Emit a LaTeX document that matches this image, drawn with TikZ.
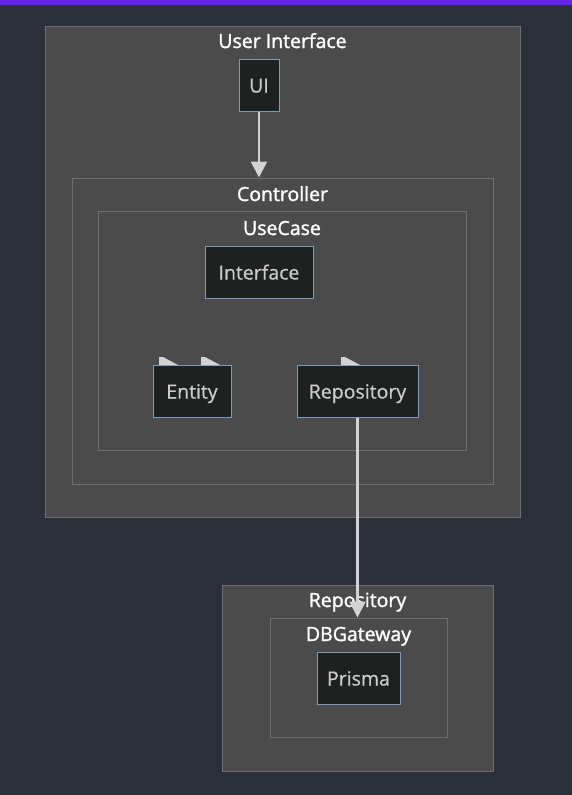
\documentclass[tikz,border=0pt]{standalone}
\usepackage{fontspec}
\setmainfont{Open Sans}
\newfontfamily\titlefont[FakeBold=1.6]{Open Sans}
\newfontfamily\boxfont[FakeBold=0.6]{Open Sans}
\usetikzlibrary{arrows.meta}
\definecolor{pagebg}{HTML}{2B2F3A}
\definecolor{topbar}{HTML}{6528D8}
\definecolor{clusterfill}{HTML}{4A4B4A}
\definecolor{clusterline}{HTML}{6E6E6E}
\definecolor{boxfill}{HTML}{1F2020}
\definecolor{boxline}{HTML}{7F99BB}
\definecolor{boxtext}{HTML}{CCCCCC}
\definecolor{flowline}{HTML}{D3D3D3}
\tikzset{
  cluster/.style={draw=clusterline,fill=clusterfill,line width=1pt,inner sep=0pt},
  ctitle/.style={text=white,font=\titlefont\fontsize{19.5}{22}\selectfont,inner sep=0pt,
    text height=12pt,text depth=0pt},
  box/.style={draw=boxline,fill=boxfill,text=boxtext,line width=1pt,inner sep=0pt,
    minimum height=52pt,text height=15pt,text depth=0pt,
    font=\boxfont\fontsize{19.5}{22}\selectfont},
  flow/.style={draw=flowline,line width=2.2pt,-{Triangle[length=16pt,width=16pt]}},
}
\begin{document}
\begin{tikzpicture}[x=1pt,y=-1pt]
\fill[pagebg] (0,0) rectangle (572,795);
\useasboundingbox (0,0) rectangle (572,795);
\fill[topbar] (0,0) rectangle (572,5);
% clusters
\node[cluster,minimum width=475pt,minimum height=491pt] (userif) at (282.5,271.5) {};
\node[ctitle] at (282.5,42) {User Interface};
\node[cluster,minimum width=421pt,minimum height=306pt] (controller) at (282.5,331) {};
\node[ctitle] at (282.5,195) {Controller};
\node[cluster,minimum width=368pt,minimum height=239pt] (usecase) at (282,330.5) {};
\node[ctitle] at (282,229) {UseCase};
\node[cluster,minimum width=271pt,minimum height=186pt] (repogroup) at (357.5,678) {};
\node[ctitle] at (357.5,601) {Repository};
\node[cluster,minimum width=177pt,minimum height=119pt] (dbgw) at (358.5,677.5) {};
\node[ctitle] at (358.5,635) {DBGateway};
% nodes
\node[box,minimum width=40pt] (ui) at (259,85) {UI};
\node[box,minimum width=108pt] (iface) at (259,272) {Interface};
\node[box,minimum width=78pt] (entity) at (192,391) {Entity};
\node[box,minimum width=121pt] (repo) at (357.5,391) {Repository};
\node[box,minimum width=83pt] (prisma) at (358.5,678) {Prisma};
% stray tips above the boxes
\foreach \tx in {159,201,341}
  \fill[flowline] (\tx,357) -- (\tx+4,357) -- (\tx+19,365) -- (\tx,365) -- cycle;
% links
\draw[flow] (ui.south) -- (ui.south |- controller.north);
\draw[flow] (repo.south) -- (repo.south |- dbgw.north);
\end{tikzpicture}
\end{document}
